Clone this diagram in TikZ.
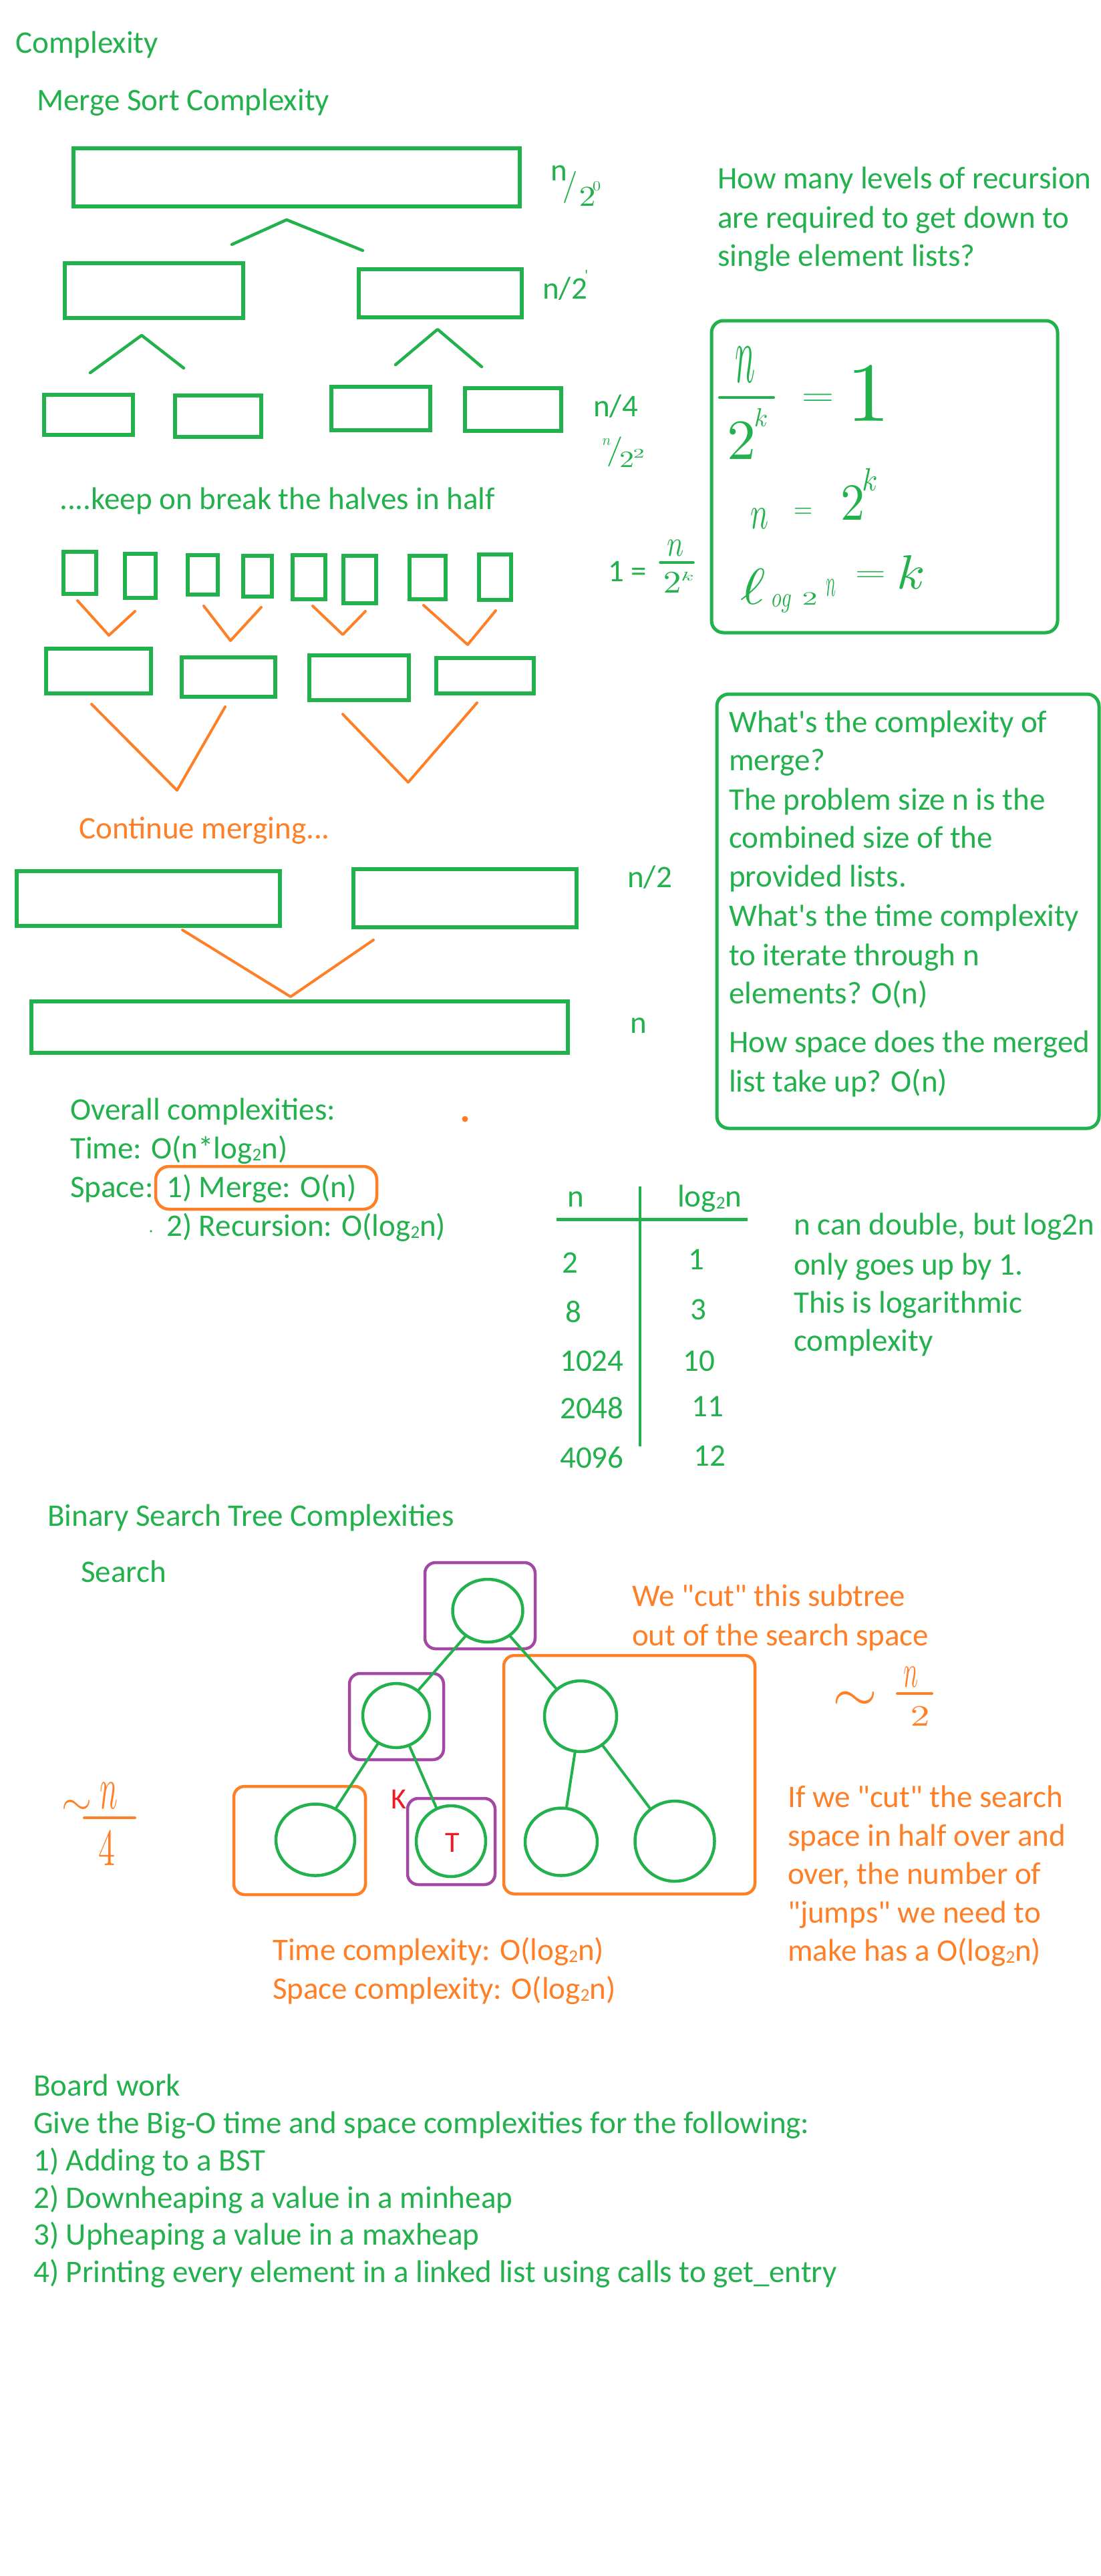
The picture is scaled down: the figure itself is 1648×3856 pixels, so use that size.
\documentclass[tikz,border=0pt]{standalone}
\usepackage{fontspec}
\setmainfont{Carlito}
\usetikzlibrary{shapes.geometric,fit}
\definecolor{grn}{RGB}{34,177,76}
\definecolor{org}{RGB}{255,127,39}
\definecolor{pur}{RGB}{163,73,164}
\definecolor{rd}{RGB}{237,28,36}
\newcommand\bodyfont{\fontsize{47}{57}\selectfont}
\newcommand\lsub{\raisebox{-3pt}{\fontsize{27}{27}\selectfont 2}}
\newcommand\hw[3]{\scalebox{#1}[#2]{$#3$}}
\newcommand\apo{\textquotesingle}
\newcommand\qq{\textquotedbl}
\tikzset{
  gbox/.style={draw=grn, line width=5.5pt, inner sep=0pt},
  rbox/.style={draw=grn, line width=5pt, rounded corners=18pt, inner sep=0pt},
  gline/.style={draw=grn, line width=4.5pt, line cap=round, line join=round},
  oline/.style={draw=org, line width=4pt, line cap=round, line join=round},
  txt/.style={anchor=base west, inner sep=0pt, font=\bodyfont, text=grn},
  otxt/.style={txt, text=org},
  hwg/.style={inner sep=0pt, text=grn},
  hwo/.style={inner sep=0pt, text=org},
  circ/.style={ellipse, draw=grn, line width=4.5pt, inner sep=0pt},
  pbox/.style={draw=pur, line width=4.5pt, rounded corners=16pt, inner sep=0pt},
  obox/.style={draw=org, line width=4.5pt, rounded corners=16pt, inner sep=0pt}
}
\begin{document}
\begin{tikzpicture}[x=1pt,y=-1pt]
\fill[white] (0,0) rectangle (1648,3856);
\useasboundingbox (0,0) rectangle (1648,3856);

% ---------- headings
\node[txt] (tcomp) at (23,80) {Complexity};
\node[txt] (tmerge) at (55,166) {Merge Sort Complexity};

% ---------- split tree
\node[gbox, fit={(110,222) (778,309)}] (A) {};
\node[gbox, fit={(97,394) (364,476)}] (B1) {};
\node[gbox, fit={(537,403) (781,475)}] (B2) {};
\node[gbox, fit={(66,591) (199,651)}] (C1) {};
\node[gbox, fit={(262,592) (391,654)}] (C2) {};
\node[gbox, fit={(496,579) (644,644)}] (C3) {};
\node[gbox, fit={(696,581) (840,645)}] (C4) {};
\draw[gline] (347,366) -- (429,329) -- (543,375);
\draw[gline] (135,558) -- (212,502) -- (275,551);
\draw[gline] (592,546) -- (655,493) -- (721,549);

% level labels
\node[txt] (l0n) at (824,271) {n};
\node[hwg] (l0s) at (853,280) {\hw{4.6}{4.8}{/}};
\node[hwg] (l0t) at (879,295) {\hw{5}{4.3}{2}};
\node[hwg] (l0e) at (893,279) {\hw{2.4}{2.1}{0}};
\node[txt] (l1) at (812,447) {n/2};
\node[anchor=base west, inner sep=0pt, text=grn, font=\fontsize{24}{24}\selectfont] (l1t) at (875,420) {\apo};
\node[txt] (l2) at (888,623) {n/4};
\node[hwg] (l2n) at (908,662) {\hw{2.2}{2.3}{n}};
\node[hwg] (l2s) at (920,676) {\hw{5}{4.5}{/}};
\node[hwg] (l2t) at (938,688) {\hw{4.4}{3.5}{2}};
\node[hwg] (l2e) at (956,679) {\hw{3.4}{2}{2}};

\node[txt] (tkeep) at (89,762) {....keep on break the halves in half};

% ---------- recursion question
\node[txt] (q1) at (1074,283) {How many levels of recursion};
\node[txt] (q2) at (1074,341) {are required to get down to};
\node[txt] (q3) at (1074,398) {single element lists?};

% formula box
\node[rbox, fit={(1065,480) (1583,947)}] (FB) {};
\node[hwg] (f1n) at (1115,546) {\hw{5}{12.3}{n}};
\draw[gline, line width=4pt] (1077,595) -- (1158,595);
\node[hwg] (f1d) at (1110,660) {\hw{8.6}{8.5}{2}};
\node[hwg] (f1k) at (1139,625) {\hw{3.7}{3.9}{k}};
\node[hwg] (f1e) at (1224,598) {\hw{6.3}{4.5}{=}};
\node[hwg] (f1o) at (1300,590) {\hw{13}{12.6}{1}};
\node[hwg] (f2n) at (1137,776) {\hw{4.5}{7}{n}};
\node[hwg] (f2e) at (1202,768) {\hw{3.7}{3.8}{=}};
\node[hwg] (f2t) at (1276,753) {\hw{7.2}{7.8}{2}};
\node[hwg] (f2k) at (1302,718) {\hw{4.2}{4.8}{k}};
\node[hwg] (f3l) at (1127,878) {\hw{9}{7.6}{\ell}};
\node[hwg] (f3o) at (1170,903) {\hw{3}{4.3}{og}};
\node[hwg] (f3t) at (1212,896) {\hw{4.6}{2.8}{2}};
\node[hwg] (f3n) at (1244,880) {\hw{2.5}{5.8}{n}};
\node[hwg] (f3e) at (1303,863) {\hw{6}{3.8}{=}};
\node[hwg] (f3k) at (1364,856) {\hw{7.7}{7.2}{k}};

% 1 = n/2^k
\node[txt] (one) at (910,870) {1 =};
\node[hwg] (onen) at (1011,820) {\hw{4.2}{5.6}{n}};
\draw[gline, line width=3.5pt] (988,842) -- (1038,842);
\node[hwg] (onet) at (1006,872) {\hw{5.4}{4.7}{2}};
\node[hwg] (onek) at (1029,863) {\hw{3.5}{1.9}{k}};

% ---------- merge tree
\node[gbox, fit={(95,826) (144,889)}] (s1) {};
\node[gbox, fit={(187,829) (233,895)}] (s2) {};
\node[gbox, fit={(281,831) (326,890)}] (s3) {};
\node[gbox, fit={(364,832) (407,893)}] (s4) {};
\node[gbox, fit={(438,831) (487,897)}] (s5) {};
\node[gbox, fit={(514,832) (563,903)}] (s6) {};
\node[gbox, fit={(613,832) (667,897)}] (s7) {};
\node[gbox, fit={(717,830) (765,898)}] (s8) {};
\draw[oline] (116,899) -- (163,951) -- (202,915);
\draw[oline] (305,907) -- (345,959) -- (391,909);
\draw[oline] (468,907) -- (513,950) -- (547,915);
\draw[oline] (634,906) -- (700,965) -- (742,914);
\node[gbox, fit={(69,971) (226,1038)}] (D1) {};
\node[gbox, fit={(272,984) (412,1043)}] (D2) {};
\node[gbox, fit={(463,981) (612,1048)}] (D3) {};
\node[gbox, fit={(653,985) (799,1038)}] (D4) {};
\draw[oline] (137,1054) -- (265,1183) -- (337,1058);
\draw[oline] (513,1069) -- (611,1171) -- (714,1052);
\node[otxt] (cont) at (118,1255) {Continue merging...};
\node[gbox, fit={(25,1304) (419,1386)}] (E1) {};
\node[gbox, fit={(529,1301) (863,1388)}] (E2) {};
\draw[oline] (273,1392) -- (435,1492) -- (559,1407);
\node[gbox, fit={(47,1499) (850,1576)}] (F) {};
\node[txt] (ln2) at (939,1328) {n/2};
\node[txt] (lnn) at (943,1546) {n};

% ---------- merge complexity box
\node[rbox, fit={(1073,1039) (1645,1689)}] (G) {};
\node[txt] (g1) at (1091,1096) {What\apo s the complexity of};
\node[txt] (g2) at (1091,1153) {merge?};
\node[txt] (g3) at (1091,1212) {The problem size n is the};
\node[txt] (g4) at (1091,1269) {combined size of the};
\node[txt] (g5) at (1091,1327) {provided lists.};
\node[txt] (g6) at (1091,1386) {What\apo s the time complexity};
\node[txt] (g7) at (1091,1445) {to iterate through n};
\node[txt] (g8) at (1091,1502) {elements? O(n)};
\node[txt] (g9) at (1091,1575) {How space does the merged};
\node[txt] (g10) at (1091,1634) {list take up? O(n)};

% ---------- overall complexities
\node[txt] (ov1) at (105,1676) {Overall complexities:};
\fill[org] (696,1675) circle (4.5pt);
\node[txt] (ov2) at (105,1734) {Time: O(n*log\lsub n)};
\node[txt] (ov3) at (105,1792) {Space:};
\node[txt] (ov4) at (249,1792) {1) Merge: O(n)};
\node[draw=org, line width=4.5pt, rounded corners=20pt, inner sep=0pt, fit={(233,1746) (564,1810)}] (ovb) {};
\fill[grn] (226,1843) circle (1.8pt);
\node[txt] (ov5) at (249,1850) {2) Recursion: O(log\lsub n)};

% ---------- table
\node[txt] (th1) at (849,1806) {n};
\node[txt] (th2) at (1014,1806) {log\lsub n};
\draw[grn, line width=5pt] (833,1825) -- (1119,1825);
\draw[grn, line width=4pt] (958,1776) -- (958,2165);
\node[txt] (ta1) at (841,1905) {2};
\node[txt] (tb1) at (1030,1900) {1};
\node[txt] (ta2) at (846,1979) {8};
\node[txt] (tb2) at (1033,1975) {3};
\node[txt] (ta3) at (838,2052) {1024};
\node[txt] (tb3) at (1022,2052) {10};
\node[txt] (ta4) at (838,2123) {2048};
\node[txt] (tb4) at (1035,2120) {11};
\node[txt] (ta5) at (838,2197) {4096};
\node[txt] (tb5) at (1038,2194) {12};
\node[txt] (r1) at (1188,1848) {n can double, but log2n};
\node[txt] (r2) at (1188,1908) {only goes up by 1.};
\node[txt] (r3) at (1188,1965) {This is logarithmic};
\node[txt] (r4) at (1188,2022) {complexity};

% ---------- BST
\node[txt] (bst) at (71,2284) {Binary Search Tree Complexities};
\node[txt] (srch) at (121,2368) {Search};

\node[pbox, fit={(636,2339) (801,2468)}] (P1) {};
\node[pbox, fit={(523,2505) (664,2634)}] (P2) {};
\node[pbox, fit={(610,2692) (741,2821)}] (P3) {};
\node[obox, fit={(754,2478) (1130,2835)}] (O1) {};
\node[obox, fit={(350,2674) (547,2836)}] (O2) {};

\node[circ, minimum width=105pt, minimum height=94pt] (N1) at (730,2411) {};
\node[circ, minimum width=100pt, minimum height=96pt] (N2) at (593,2568) {};
\node[circ, minimum width=108pt, minimum height=106pt] (N3) at (869,2569) {};
\node[circ, minimum width=118pt, minimum height=107pt] (N4) at (472,2754) {};
\node[circ, minimum width=104pt, minimum height=106pt] (N5) at (675,2756) {};
\node[circ, minimum width=108pt, minimum height=101pt] (N6) at (840,2757) {};
\node[circ, minimum width=119pt, minimum height=120pt] (N7) at (1010,2756) {};
\draw[gline, line width=4pt] (N1) -- (N2);
\draw[gline, line width=4pt] (N1) -- (N3);
\draw[gline, line width=4pt] (N2) -- (N4);
\draw[gline, line width=4pt] (N2) -- (N5);
\draw[gline, line width=4pt] (N3) -- (N6);
\draw[gline, line width=4pt] (N3) -- (N7);
\node[inner sep=0pt, text=rd, font=\fontsize{44}{44}\selectfont] (Tl) at (677,2758) {T};
\node[anchor=base west, inner sep=0pt, text=rd, font=\fontsize{44}{44}\selectfont] (Kl) at (585,2707) {K};

\node[otxt] (cut1) at (946,2404) {We \qq cut\qq{} this subtree};
\node[otxt] (cut2) at (946,2463) {out of the search space};

\node[hwo] (h2s) at (1280,2547) {\hw{8.6}{8}{\sim}};
\node[hwo] (h2n) at (1364,2510) {\hw{3.7}{7}{n}};
\draw[oline] (1343,2535) -- (1395,2535);
\node[hwo] (h2d) at (1377,2569) {\hw{5.8}{4.4}{2}};

\node[hwo] (h4s) at (115,2705) {\hw{5.8}{6}{\sim}};
\node[hwo] (h4n) at (163,2688) {\hw{4.5}{9}{n}};
\draw[oline] (126,2721) -- (202,2721);
\node[hwo] (h4d) at (160,2767) {\hw{5}{7.8}{4}};

\node[otxt] (j1) at (1179,2705) {If we \qq cut\qq{} the search};
\node[otxt] (j2) at (1179,2763) {space in half over and};
\node[otxt] (j3) at (1179,2820) {over, the number of};
\node[otxt] (j4) at (1179,2878) {\qq jumps\qq{} we need to};
\node[otxt] (j5) at (1179,2935) {make has a O(log\lsub n)};

\node[otxt] (tc) at (408,2934) {Time complexity: O(log\lsub n)};
\node[otxt] (sc) at (408,2992) {Space complexity: O(log\lsub n)};

% ---------- board work
\node[txt] (bw0) at (50,3137) {Board work};
\node[txt] (bw1) at (50,3193) {Give the Big-O time and space complexities for the following:};
\node[txt] (bw2) at (50,3249) {1) Adding to a BST};
\node[txt] (bw3) at (50,3305) {2) Downheaping a value in a minheap};
\node[txt] (bw4) at (50,3360) {3) Upheaping a value in a maxheap};
\node[txt] (bw5) at (50,3416) {4) Printing every element in a linked list using calls to get\_entry};
\end{tikzpicture}
\end{document}
